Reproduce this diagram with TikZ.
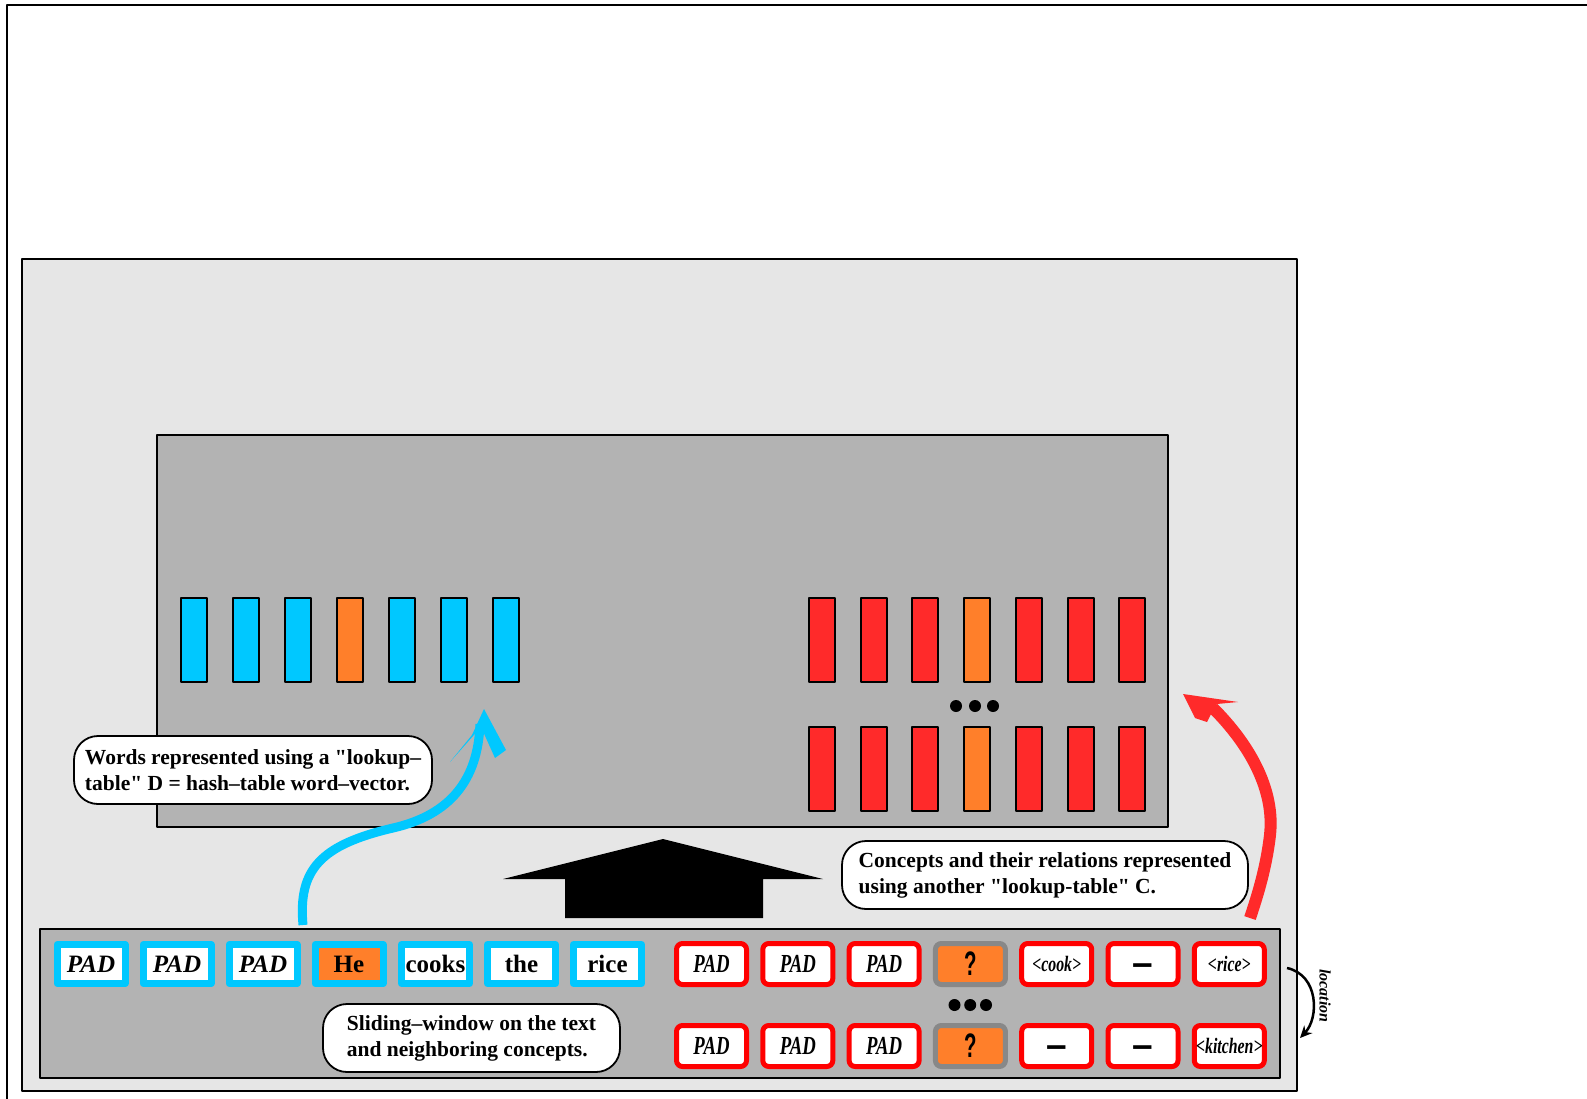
\documentclass[tikz,border=0pt]{standalone}
\usepackage{fontspec}
\setmainfont{Liberation Serif}
\newfontfamily\condserif[FakeStretch=0.72]{Liberation Serif}
\newfontfamily\condsans[FakeStretch=0.6]{Liberation Sans}
\newfontfamily\plainsans{Liberation Sans}
\font\quotefont="Liberation Serif/B" at 21.5pt
\newcommand\dquote{{\quotefont\char"22}}
\usepackage{tikz}
\usetikzlibrary{arrows.meta,calc}

\definecolor{skyblue}{RGB}{0,200,255}
\definecolor{tanorange}{RGB}{255,127,42}
\definecolor{barred}{RGB}{255,42,42}
\definecolor{panelgray}{RGB}{230,230,230}
\definecolor{boxgray}{RGB}{179,179,179}
\definecolor{rimgray}{RGB}{136,136,136}

\begin{document}
\begin{tikzpicture}[x=1pt, y=-1pt, >=Stealth, line join=round,
  bar/.style={draw, line width=2pt, minimum width=26pt, minimum height=84pt, inner sep=0pt},
  bluebar/.style={bar, fill=skyblue},
  redbar/.style={bar, fill=barred},
  hotbar/.style={bar, fill=tanorange},
  dot/.style={circle, fill=black, minimum size=12pt, inner sep=0pt},
  wordbox/.style={draw=skyblue, line width=7pt, fill=white, minimum width=68pt, minimum height=39pt,
    inner sep=0pt, font=\bfseries\fontsize{25}{25}\selectfont},
  wordpad/.style={wordbox, font=\bfseries\itshape\fontsize{25}{25}\selectfont},
  conceptbox/.style={draw=red, line width=5pt, rounded corners=6pt, fill=white, minimum width=70pt,
    minimum height=41pt, inner sep=0pt, font=\condserif\bfseries\itshape\fontsize{22}{22}\selectfont},
  conceptpad/.style={conceptbox, font=\condserif\bfseries\itshape\fontsize{26}{26}\selectfont},
  conceptnone/.style={conceptbox, text height=22pt, text depth=0pt,
    font=\plainsans\bfseries\fontsize{37}{37}\selectfont},
  querybox/.style={conceptbox, draw=rimgray, fill=tanorange, font=\condsans\bfseries\fontsize{34}{34}\selectfont},
  callout/.style={draw, line width=1.8pt, fill=white, rounded corners=24pt, align=left, inner sep=0pt,
    minimum height=68pt, font=\bfseries\fontsize{21.5}{26}\selectfont}]
  \useasboundingbox (0,0) rectangle (1587,1099);
  % frames
  \draw[line width=2pt] (7,1120) -- (7,5) -- (1600,5);
  \draw[line width=1.5pt, fill=panelgray] (22,259) rectangle (1297,1091);
  \draw[line width=2.5pt, fill=boxgray] (157,435) rectangle (1168,827);
  \draw[line width=2pt, fill=boxgray] (40,929) rectangle (1280,1078);
  % word vectors
  \node[bluebar] (v1) at (194,640) {};
  \node[bluebar] (v2) at (246,640) {};
  \node[bluebar] (v3) at (298,640) {};
  \node[hotbar]  (v4) at (350,640) {};
  \node[bluebar] (v5) at (402,640) {};
  \node[bluebar] (v6) at (454,640) {};
  \node[bluebar] (v7) at (506,640) {};
  % concept vectors
  \node[redbar] (c1) at (822,640) {};
  \node[redbar] (c2) at (873.7,640) {};
  \node[redbar] (c3) at (925.4,640) {};
  \node[hotbar] (c4) at (977.1,640) {};
  \node[redbar] (c5) at (1028.8,640) {};
  \node[redbar] (c6) at (1080.5,640) {};
  \node[redbar] (c7) at (1132.2,640) {};
  \node[dot] (vd1) at (956,706) {};
  \node[dot] (vd2) at (975,706) {};
  \node[dot] (vd3) at (993,706) {};
  \node[redbar] (k1) at (822,769) {};
  \node[redbar] (k2) at (873.7,769) {};
  \node[redbar] (k3) at (925.4,769) {};
  \node[hotbar] (k4) at (977.1,769) {};
  \node[redbar] (k5) at (1028.8,769) {};
  \node[redbar] (k6) at (1080.5,769) {};
  \node[redbar] (k7) at (1132.2,769) {};
  % big arrow
  \fill (663,839) -- (823,879) -- (763,879) -- (763,918) -- (565,918) -- (565,879) -- (503,879) -- cycle;
  % sliding window
  \node[wordpad] (p1) at (91,964) {PAD};
  \node[wordpad] (p2) at (177,964) {PAD};
  \node[wordpad] (p3) at (263,964) {PAD};
  \node[wordbox, fill=tanorange] (he) at (349,964) {He};
  \node[wordbox] (cooks) at (435.5,964) {cooks};
  \node[wordbox] (the) at (521.5,964) {the};
  \node[wordbox] (rice) at (607.5,964) {rice};
  \node[conceptpad] (q1) at (711.5,964) {PAD};
  \node[conceptpad] (q2) at (797.8,964) {PAD};
  \node[conceptpad] (q3) at (884.1,964) {PAD};
  \node[querybox] (q4) at (970.4,964) {?};
  \node[conceptbox] (q5) at (1056.7,964) {<cook>};
  \node[conceptnone] (q6) at (1143,964) {–};
  \node[conceptbox] (q7) at (1229.3,964) {<rice>};
  \node[dot] (qd1) at (954.5,1005) {};
  \node[dot] (qd2) at (970.2,1005) {};
  \node[dot] (qd3) at (986,1005) {};
  \node[conceptpad] (r1) at (711.5,1046) {PAD};
  \node[conceptpad] (r2) at (797.8,1046) {PAD};
  \node[conceptpad] (r3) at (884.1,1046) {PAD};
  \node[querybox] (r4) at (970.4,1046) {?};
  \node[conceptnone] (r5) at (1056.7,1046) {–};
  \node[conceptnone] (r6) at (1143,1046) {–};
  \node[conceptbox] (r7) at (1229.3,1046) {<kitchen>};
  % callouts
  \node[callout, minimum width=358pt] (wordnote) at (253,770)
    {Words represented using a \dquote lookup–\\table\dquote{} D = hash–table word–vector.};
  \node[callout, minimum width=406pt] (conceptnote) at (1045,875)
    {Concepts and their relations represented\\using another \dquote lookup-table\dquote{} C.};
  \node[callout, minimum width=297pt] (slidenote) at (471.5,1038)
    {Sliding–window on the text\\and neighboring concepts.};
  % brush arrows
  \coordinate (bluefrom) at (303,925);
  \coordinate (blueto) at (480,724);
  \draw[skyblue, line width=9pt] (bluefrom) .. controls (298,870) and (320,845) .. (393,828)
    .. controls (450,815) and (478,780) .. (blueto);
  \fill[skyblue] (484,709) -- (506,750) -- (495,758) -- (481,727) -- (450,762) -- (472,735) -- cycle;
  \coordinate (redfrom) at (1250,918);
  \coordinate (redto) at (1213,708);
  \draw[barred, line width=12pt] (redfrom) .. controls (1256,900) and (1266,870) .. (1270,835)
    .. controls (1275,790) and (1250,745) .. (redto);
  \fill[barred] (1183,694) -- (1238,702) -- (1217,704) -- (1212,712) -- (1207,722) -- (1195,718) -- cycle;
  % location
  \coordinate (locfrom) at (1287,968);
  \coordinate (locto) at (1300,1038);
  \draw[line width=2.5pt, -{Stealth[length=12pt,width=11pt]}] (locfrom) .. controls (1319,975) and (1319,1018) .. (locto);
  \node[rotate=-90, font=\bfseries\itshape\fontsize{16}{16}\selectfont] (loclabel) at (1325,996) {location};
\end{tikzpicture}
\end{document}
